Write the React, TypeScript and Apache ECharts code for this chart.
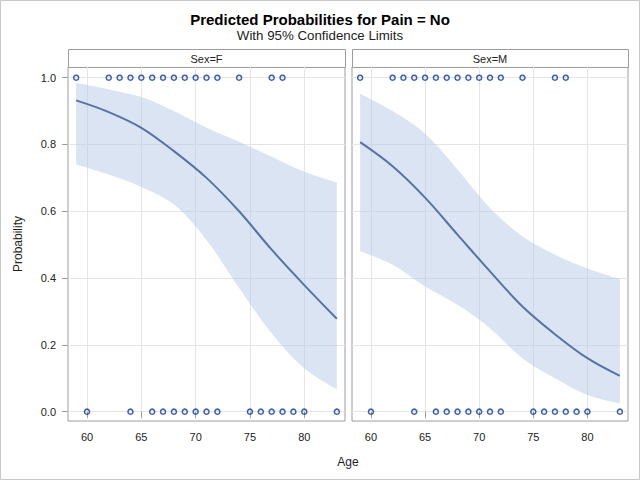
import React, { useEffect, useRef } from 'react';
import * as echarts from 'echarts';

const ages = [59, 62, 65, 68, 71, 74, 77, 80, 83];

// Sex = F
const predF = [0.932, 0.897, 0.85, 0.78, 0.70, 0.60, 0.485, 0.379, 0.278];
const upperF = [0.984, 0.965, 0.942, 0.90, 0.85, 0.808, 0.763, 0.718, 0.686];
const lowerF = [0.74, 0.71, 0.673, 0.62, 0.514, 0.37, 0.235, 0.13, 0.067];

// Sex = M
const predM = [0.807, 0.735, 0.641, 0.53, 0.42, 0.315, 0.232, 0.16, 0.107];
const upperM = [0.952, 0.90, 0.832, 0.725, 0.61, 0.525, 0.47, 0.429, 0.397];
const lowerM = [0.48, 0.44, 0.375, 0.32, 0.25, 0.16, 0.10, 0.05, 0.025];

// Observed responses (Pain = No -> 1, otherwise 0)
const obsNoF = [59, 62, 63, 64, 65, 66, 67, 68, 69, 70, 71, 72, 74, 77, 78];
const obsYesF = [60, 64, 66, 67, 68, 69, 70, 71, 72, 75, 76, 77, 78, 79, 80, 83];
const obsNoM = [59, 62, 63, 64, 65, 66, 67, 68, 69, 70, 71, 72, 74, 77, 78];
const obsYesM = [60, 64, 66, 67, 68, 69, 70, 71, 72, 75, 76, 77, 78, 79, 80, 83];

const panelLabels = ['Sex=F', 'Sex=M'];
const xTicks = [60, 65, 70, 75, 80];
const yTicks = [0, 0.2, 0.4, 0.6, 0.8, 1.0];

const FONT = '"Liberation Sans", Arial, Helvetica, sans-serif';
const BAND = 'rgba(181,201,229,0.5)';
const LINE = '#5873a3';
const MARK = '#0b3a9e';
const FRAME = '#9c9c9c';
const GRIDLINE = '#e5e5e5';
const TEXT = '#222';

const panels = [
  { pred: predF, upper: upperF, lower: lowerF, obs1: obsNoF, obs0: obsYesF },
  { pred: predM, upper: upperM, lower: lowerM, obs1: obsNoM, obs0: obsYesM },
];

const gridBoxes = [
  { left: 68, right: 295, top: 67, bottom: 59 },
  { left: 352, right: 12, top: 67, bottom: 59 },
];

const isTick = (v: number, list: number[]) => list.some((t) => Math.abs(t - v) < 1e-6);

export default function App() {
  const ref = useRef<HTMLDivElement>(null);

  useEffect(() => {
    if (!ref.current) return;
    const chart = echarts.init(ref.current, null, { renderer: 'svg' });

    const grids = gridBoxes.map((g) => ({
      ...g,
      show: true,
      borderColor: FRAME,
      borderWidth: 1,
      backgroundColor: 'rgba(0,0,0,0)',
    }));

    const xAxes = panels.map((_, i) => ({
      type: 'value',
      gridIndex: i,
      min: 58.25,
      max: 83.75,
      axisLine: { show: false },
      axisTick: {
        show: true,
        length: 6,
        lineStyle: { color: FRAME },
        customValues: xTicks,
      },
      axisLabel: {
        customValues: xTicks,
        color: TEXT,
        fontSize: 11,
        fontFamily: FONT,
        margin: 10,
        formatter: (v: number) => (isTick(v, xTicks) ? String(v) : ''),
      },
      splitLine: { show: true, lineStyle: { color: GRIDLINE, width: 1 } },
    }));

    const yAxes = panels.map((_, i) => ({
      type: 'value',
      gridIndex: i,
      min: -0.028,
      max: 1.032,
      name: i === 0 ? 'Probability' : '',
      nameLocation: 'middle',
      nameGap: 44,
      nameTextStyle: { color: TEXT, fontSize: 12, fontFamily: FONT },
      axisLine: { show: false },
      axisTick: {
        show: i === 0,
        length: 6,
        lineStyle: { color: FRAME },
        customValues: yTicks,
      },
      axisLabel: {
        show: i === 0,
        customValues: yTicks,
        color: TEXT,
        fontSize: 11,
        fontFamily: FONT,
        margin: 12,
        formatter: (v: number) => (isTick(v, yTicks) ? v.toFixed(1) : ''),
      },
      splitLine: { show: true, lineStyle: { color: GRIDLINE, width: 1 } },
    }));

    const series: any[] = [];
    panels.forEach((p, i) => {
      const stack = 'band' + i;
      // data given as [y, x] so that the stack is taken on the y dimension
      series.push({
        type: 'line',
        xAxisIndex: i,
        yAxisIndex: i,
        stack,
        encode: { x: 1, y: 0 },
        smooth: 0.35,
        symbol: 'none',
        silent: true,
        lineStyle: { opacity: 0, width: 0 },
        data: ages.map((a, k) => [p.lower[k], a]),
        z: 1,
      });
      series.push({
        type: 'line',
        xAxisIndex: i,
        yAxisIndex: i,
        stack,
        encode: { x: 1, y: 0 },
        smooth: 0.35,
        symbol: 'none',
        silent: true,
        lineStyle: { opacity: 0, width: 0 },
        areaStyle: { color: BAND, opacity: 1 },
        data: ages.map((a, k) => [p.upper[k] - p.lower[k], a]),
        z: 1,
      });
      series.push({
        type: 'line',
        xAxisIndex: i,
        yAxisIndex: i,
        smooth: 0.35,
        symbol: 'none',
        lineStyle: { color: LINE, width: 2 },
        data: ages.map((a, k) => [a, p.pred[k]]),
        z: 3,
      });
      const markerStyle = {
        color: 'rgba(255,255,255,0)',
        borderColor: MARK,
        borderWidth: 1.5,
      };
      series.push({
        type: 'scatter',
        xAxisIndex: i,
        yAxisIndex: i,
        symbol: 'circle',
        symbolSize: 5,
        itemStyle: markerStyle,
        data: p.obs1.map((a) => [a, 1]),
        z: 4,
      });
      series.push({
        type: 'scatter',
        xAxisIndex: i,
        yAxisIndex: i,
        symbol: 'circle',
        symbolSize: 5,
        itemStyle: markerStyle,
        data: p.obs0.map((a) => [a, 0]),
        z: 4,
      });
    });

    const headerTop = 49;
    const headerH = 18;
    const graphic: any[] = [
      {
        type: 'rect',
        shape: { x: 0.5, y: 0.5, width: 639, height: 479 },
        style: { fill: 'none', stroke: '#c8c8c8', lineWidth: 1 },
        silent: true,
      },
      {
        type: 'text',
        x: 348,
        y: 462,
        style: {
          text: 'Age',
          fill: TEXT,
          font: `12px ${FONT}`,
          textAlign: 'center',
          textVerticalAlign: 'middle',
        },
      },
    ];
    gridBoxes.forEach((g, i) => {
      const x0 = g.left;
      const x1 = 640 - g.right;
      graphic.push({
        type: 'rect',
        shape: { x: x0 + 0.5, y: headerTop + 0.5, width: x1 - x0, height: headerH },
        style: { fill: '#fff', stroke: FRAME, lineWidth: 1 },
        silent: true,
      });
      graphic.push({
        type: 'text',
        x: (x0 + x1) / 2,
        y: headerTop + headerH / 2 + 0.5,
        style: {
          text: panelLabels[i],
          fill: TEXT,
          font: `11px ${FONT}`,
          textAlign: 'center',
          textVerticalAlign: 'middle',
        },
      });
    });

    chart.setOption({
      animation: false,
      backgroundColor: '#fff',
      title: {
        text: 'Predicted Probabilities for Pain = No',
        subtext: 'With 95% Confidence Limits',
        left: 'center',
        top: 12,
        padding: 0,
        itemGap: 1,
        textStyle: { fontSize: 15, lineHeight: 15, fontWeight: 'bold', color: '#000', fontFamily: FONT },
        subtextStyle: { fontSize: 13.3, lineHeight: 14, color: TEXT, fontFamily: FONT },
      },
      grid: grids,
      xAxis: xAxes,
      yAxis: yAxes,
      series,
      graphic,
    });

    return () => chart.dispose();
  }, []);

  return (
    <div
      ref={ref}
      style={{ position: 'fixed', left: 0, top: 0, width: 640, height: 480 }}
    />
  );
}
